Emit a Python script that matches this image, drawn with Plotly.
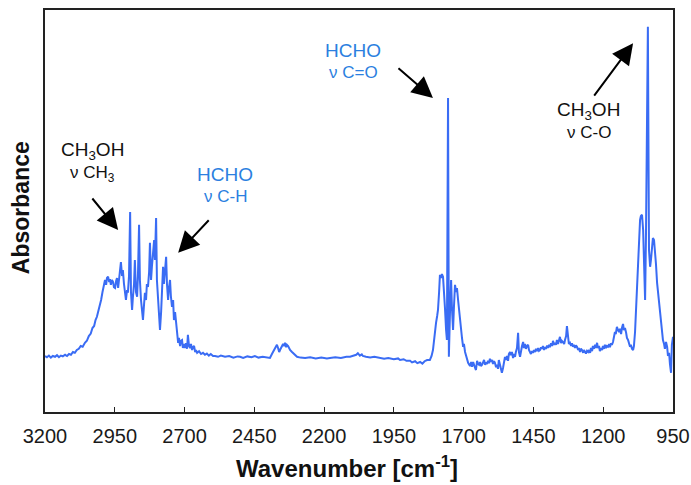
import plotly.graph_objects as go

# Spectrum (wavenumber in cm-1, absorbance in arbitrary units)
wavenumber = [
    3200, 3193, 3186, 3179, 3172, 3164, 3157, 3150, 3143, 3136, 3128, 3121, 3114, 3107, 3100, 3093, 3086, 3079,
    3072, 3065, 3057, 3050, 3043, 3036, 3030, 3024, 3019, 3014, 3008, 3003, 2999, 2994, 2989, 2985, 2981, 2978,
    2974, 2970, 2967, 2964, 2960, 2956, 2953, 2949, 2945, 2942, 2938, 2935, 2931, 2928, 2924, 2921, 2917, 2913,
    2910, 2906, 2903, 2899, 2895, 2892, 2888, 2885, 2881, 2878, 2874, 2870, 2867, 2863, 2860, 2856, 2852, 2849,
    2845, 2842, 2838, 2835, 2831, 2827, 2824, 2820, 2817, 2813, 2809, 2806, 2802, 2799, 2795, 2791, 2788, 2784,
    2781, 2777, 2774, 2770, 2766, 2763, 2759, 2756, 2752, 2749, 2745, 2741, 2738, 2734, 2731, 2727, 2723, 2720,
    2716, 2713, 2709, 2706, 2702, 2698, 2695, 2691, 2688, 2684, 2680, 2677, 2673, 2670, 2666, 2662, 2659, 2655,
    2648, 2641, 2634, 2627, 2620, 2613, 2606, 2598, 2591, 2580, 2570, 2555, 2540, 2525, 2510, 2501, 2490, 2475,
    2460, 2448, 2435, 2420, 2412, 2400, 2394, 2387, 2379, 2372, 2369, 2365, 2361, 2358, 2354, 2350, 2347, 2343,
    2340, 2336, 2333, 2329, 2322, 2315, 2308, 2300, 2297, 2285, 2268, 2250, 2230, 2210, 2190, 2179, 2160, 2140,
    2120, 2107, 2095, 2085, 2079, 2072, 2065, 2061, 2050, 2035, 2020, 2000, 1985, 1970, 1950, 1935, 1928, 1915,
    1905, 1892, 1885, 1874, 1866, 1856, 1848, 1840, 1831, 1821, 1815, 1810, 1806, 1803, 1799, 1795, 1792, 1788,
    1785, 1781, 1778, 1774, 1770, 1767, 1763, 1760, 1756, 1753, 1749, 1745, 1742, 1738, 1735, 1731, 1727, 1724,
    1720, 1717, 1713, 1710, 1706, 1702, 1699, 1695, 1691, 1688, 1684, 1680, 1677, 1673, 1670, 1666, 1663, 1659,
    1656, 1652, 1648, 1645, 1641, 1638, 1634, 1630, 1627, 1623, 1620, 1616, 1613, 1609, 1606, 1602, 1598, 1595,
    1591, 1588, 1584, 1581, 1577, 1574, 1570, 1566, 1563, 1559, 1556, 1552, 1548, 1545, 1541, 1538, 1534, 1531,
    1527, 1523, 1520, 1516, 1513, 1509, 1505, 1502, 1498, 1495, 1491, 1487, 1484, 1480, 1477, 1473, 1469, 1466,
    1462, 1459, 1455, 1452, 1448, 1444, 1441, 1437, 1433, 1430, 1426, 1423, 1419, 1416, 1412, 1408, 1405, 1401,
    1398, 1394, 1391, 1387, 1383, 1380, 1376, 1373, 1369, 1366, 1362, 1358, 1355, 1351, 1348, 1344, 1340, 1337,
    1333, 1330, 1326, 1323, 1319, 1315, 1312, 1308, 1305, 1301, 1298, 1294, 1290, 1287, 1283, 1280, 1276, 1272,
    1269, 1265, 1262, 1258, 1254, 1251, 1247, 1244, 1240, 1237, 1233, 1229, 1226, 1222, 1219, 1215, 1212, 1208,
    1204, 1201, 1197, 1194, 1190, 1187, 1183, 1179, 1176, 1172, 1169, 1165, 1162, 1158, 1155, 1151, 1147, 1143,
    1140, 1136, 1133, 1129, 1126, 1122, 1118, 1115, 1111, 1108, 1104, 1101, 1097, 1093, 1090, 1086, 1083, 1079,
    1075, 1072, 1068, 1065, 1061, 1057, 1054, 1050, 1047, 1044, 1040, 1036, 1032, 1029, 1025, 1022, 1018, 1014,
    1011, 1007, 1004, 1000, 997, 993, 990, 986, 982, 979, 975, 971, 968, 964, 961, 957, 954, 950]
absorbance = [
    0.140, 0.137, 0.141, 0.136, 0.140, 0.138, 0.142, 0.137, 0.141, 0.139, 0.143, 0.140, 0.145, 0.143, 0.150, 0.148, 0.155, 0.158,
    0.165, 0.163, 0.173, 0.178, 0.190, 0.196, 0.210, 0.215, 0.230, 0.238, 0.255, 0.268, 0.280, 0.300, 0.315, 0.330, 0.318, 0.335,
    0.338, 0.325, 0.332, 0.318, 0.330, 0.325, 0.312, 0.310, 0.328, 0.335, 0.310, 0.330, 0.345, 0.375, 0.340, 0.355, 0.320, 0.300,
    0.280, 0.305, 0.298, 0.340, 0.500, 0.300, 0.255, 0.288, 0.320, 0.380, 0.300, 0.288, 0.340, 0.468, 0.330, 0.280, 0.255, 0.230,
    0.270, 0.298, 0.280, 0.320, 0.313, 0.350, 0.423, 0.330, 0.363, 0.400, 0.430, 0.380, 0.485, 0.330, 0.280, 0.230, 0.205, 0.250,
    0.298, 0.363, 0.320, 0.360, 0.388, 0.320, 0.280, 0.310, 0.330, 0.290, 0.263, 0.280, 0.230, 0.250, 0.223, 0.200, 0.173, 0.185,
    0.165, 0.178, 0.180, 0.160, 0.170, 0.160, 0.172, 0.158, 0.193, 0.165, 0.160, 0.170, 0.155, 0.162, 0.165, 0.150, 0.155, 0.148,
    0.152, 0.145, 0.148, 0.143, 0.146, 0.141, 0.145, 0.140, 0.140, 0.138, 0.141, 0.138, 0.140, 0.136, 0.139, 0.138, 0.135, 0.139,
    0.137, 0.140, 0.136, 0.138, 0.137, 0.134, 0.135, 0.145, 0.155, 0.162, 0.168, 0.160, 0.150, 0.155, 0.162, 0.168, 0.170, 0.165,
    0.173, 0.162, 0.168, 0.165, 0.155, 0.150, 0.145, 0.140, 0.138, 0.136, 0.135, 0.137, 0.134, 0.136, 0.134, 0.135, 0.137, 0.135,
    0.138, 0.138, 0.141, 0.143, 0.147, 0.141, 0.144, 0.140, 0.138, 0.136, 0.138, 0.135, 0.133, 0.135, 0.132, 0.134, 0.130, 0.132,
    0.128, 0.128, 0.124, 0.127, 0.122, 0.125, 0.121, 0.127, 0.130, 0.130, 0.140, 0.155, 0.185, 0.200, 0.223, 0.240, 0.255, 0.300,
    0.343, 0.335, 0.345, 0.338, 0.305, 0.260, 0.205, 0.180, 0.785, 0.138, 0.250, 0.330, 0.260, 0.205, 0.260, 0.318, 0.300, 0.310,
    0.280, 0.255, 0.230, 0.210, 0.185, 0.163, 0.170, 0.150, 0.140, 0.130, 0.123, 0.118, 0.115, 0.125, 0.113, 0.125, 0.115, 0.110,
    0.105, 0.128, 0.120, 0.118, 0.125, 0.115, 0.118, 0.126, 0.130, 0.118, 0.124, 0.120, 0.128, 0.122, 0.133, 0.126, 0.130, 0.120,
    0.127, 0.123, 0.112, 0.118, 0.108, 0.130, 0.115, 0.105, 0.098, 0.110, 0.125, 0.138, 0.130, 0.140, 0.128, 0.145, 0.150, 0.142,
    0.150, 0.135, 0.145, 0.138, 0.150, 0.160, 0.198, 0.150, 0.138, 0.155, 0.165, 0.175, 0.160, 0.170, 0.158, 0.165, 0.168, 0.155,
    0.150, 0.145, 0.152, 0.148, 0.155, 0.150, 0.158, 0.152, 0.160, 0.153, 0.155, 0.162, 0.158, 0.165, 0.155, 0.162, 0.158, 0.166,
    0.160, 0.168, 0.162, 0.172, 0.165, 0.178, 0.168, 0.173, 0.168, 0.180, 0.170, 0.185, 0.188, 0.172, 0.178, 0.175, 0.170, 0.180,
    0.190, 0.215, 0.180, 0.170, 0.173, 0.165, 0.172, 0.163, 0.168, 0.160, 0.167, 0.163, 0.155, 0.160, 0.150, 0.158, 0.155, 0.148,
    0.155, 0.150, 0.146, 0.153, 0.150, 0.155, 0.148, 0.160, 0.152, 0.165, 0.158, 0.168, 0.160, 0.173, 0.160, 0.165, 0.152, 0.160,
    0.155, 0.165, 0.158, 0.168, 0.160, 0.165, 0.163, 0.170, 0.162, 0.172, 0.168, 0.175, 0.190, 0.200, 0.195, 0.213, 0.205, 0.200,
    0.208, 0.195, 0.210, 0.220, 0.205, 0.210, 0.198, 0.185, 0.180, 0.170, 0.163, 0.168, 0.158, 0.155, 0.165, 0.200, 0.255, 0.320,
    0.373, 0.430, 0.480, 0.490, 0.493, 0.455, 0.380, 0.280, 0.430, 0.780, 0.963, 0.405, 0.363, 0.380, 0.420, 0.435, 0.430, 0.405,
    0.370, 0.323, 0.300, 0.270, 0.248, 0.220, 0.200, 0.180, 0.170, 0.158, 0.175, 0.163, 0.140, 0.148, 0.120, 0.098, 0.168, 0.188]

tick_values = [3200, 2950, 2700, 2450, 2200, 1950, 1700, 1450, 1200, 950]
tick_labels = [str(v) for v in tick_values]

LINE = "#3a6cf4"
BLUE_TXT = "#2b7fe0"
FONT = "Liberation Sans, Arial, sans-serif"

fig = go.Figure()
fig.add_trace(go.Scatter(x=wavenumber, y=absorbance, mode="lines",
                         line=dict(color=LINE, width=2), hoverinfo="skip"))

# Text labels: (x, y, text, color, size)
labels = [
    (3031, 0.652, "CH<sub>3</sub>OH", "#111", 19),
    (3031, 0.596, "ν CH<sub>3</sub>", "#111", 17),
    (2555, 0.593, "HCHO", BLUE_TXT, 19),
    (2555, 0.540, "ν C-H", BLUE_TXT, 17),
    (2096, 0.903, "HCHO", BLUE_TXT, 19),
    (2096, 0.850, "ν C=O", BLUE_TXT, 17),
    (1251, 0.752, "CH<sub>3</sub>OH", "#111", 19),
    (1251, 0.698, "ν C-O", "#111", 17),
]
annotations = []
for x, y, t, c, s in labels:
    annotations.append(dict(x=x, y=y, xref="x", yref="y", text=t, showarrow=False,
                            font=dict(family=FONT, size=s, color=c),
                            xanchor="center", yanchor="middle"))

# Arrows: tip (x, y) and tail offset (ax, ay) in pixels
arrows = [
    (2938, 0.455, -27, -33),
    (2723, 0.398, 32, -34),
    (1810, 0.785, -36, -31),
    (1093, 0.922, -40, 54),
]
for x, y, ax, ay in arrows:
    annotations.append(dict(x=x, y=y, xref="x", yref="y", ax=ax, ay=ay, text="",
                            showarrow=True, arrowhead=2, arrowsize=2.1, arrowwidth=2,
                            arrowcolor="black", standoff=0, startstandoff=0))

# Axis titles
annotations.append(dict(x=0.481, y=-0.137, xref="paper", yref="paper", showarrow=False,
                        text="<b>Wavenumber [cm<sup>-1</sup>]</b>", xanchor="center", yanchor="middle",
                        font=dict(family=FONT, size=24, color="#111")))
annotations.append(dict(x=-0.037, y=0.509, xref="paper", yref="paper", showarrow=False,
                        text="<b>Absorbance</b>", textangle=-90, xanchor="center", yanchor="middle",
                        font=dict(family=FONT, size=23, color="#111")))

fig.update_layout(
    width=691, height=485,
    margin=dict(l=45, r=18, t=10, b=73),
    paper_bgcolor="white", plot_bgcolor="white",
    showlegend=False,
    annotations=annotations,
    font=dict(family=FONT, color="#111"),
    xaxis=dict(range=[3200, 950], tickmode="array", tickvals=tick_values, ticktext=tick_labels,
               ticks="inside", ticklen=5, tickcolor="#222", tickwidth=1, ticklabelstandoff=5,
               showline=True, linecolor="#222", linewidth=1.5, mirror=True,
               showgrid=False, zeroline=False, automargin=False,
               tickfont=dict(family=FONT, size=20, color="#1a1a1a")),
    yaxis=dict(range=[0, 1.005], showticklabels=False, ticks="",
               showline=True, linecolor="#222", linewidth=1.5, mirror=True,
               showgrid=False, zeroline=False, automargin=False),
)

fig.write_html("out.html", config={"displayModeBar": False},
               post_script="document.body.style.margin='0';document.body.style.overflow='hidden';")
